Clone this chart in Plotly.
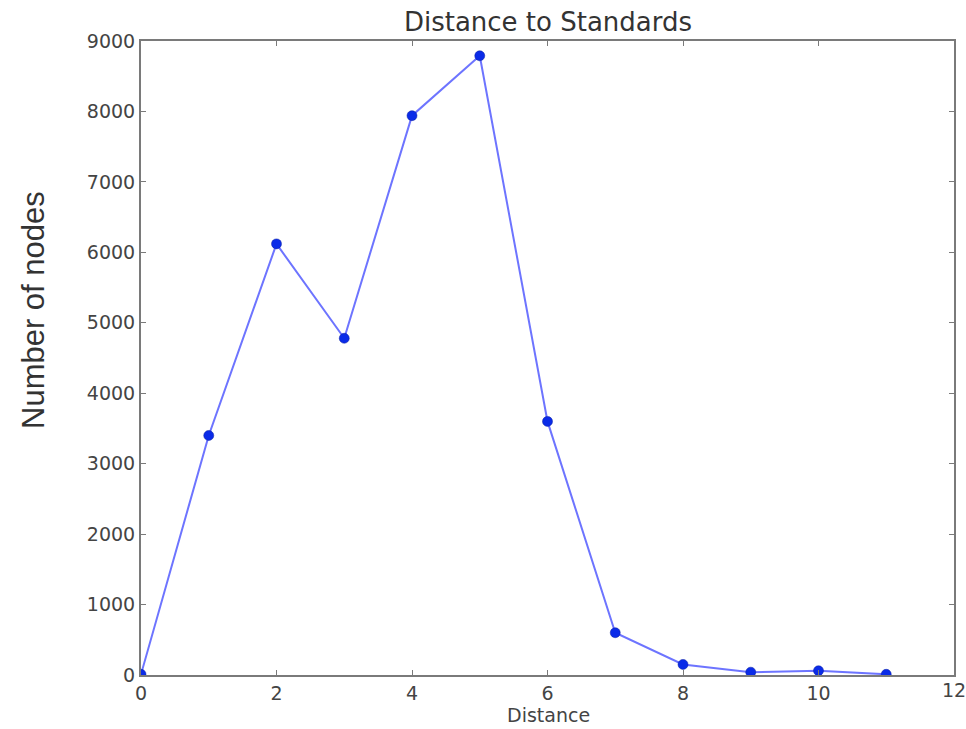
import plotly.graph_objects as go

distance = [0, 1, 2, 3, 4, 5, 6, 7, 8, 9, 10, 11]
nodes = [10, 3400, 6120, 4780, 7940, 8790, 3600, 600, 150, 40, 60, 10]
x_ticks = [0, 2, 4, 6, 8, 10, 12]
y_ticks = [0, 1000, 2000, 3000, 4000, 5000, 6000, 7000, 8000, 9000]

W, H = 966, 729
L, R, T, B = 141, 12, 41, 54
PH = H - T - B

fig = go.Figure()
fig.add_trace(go.Scatter(
    x=distance, y=nodes, mode="lines",
    line=dict(color="rgba(60,70,255,0.75)", width=2),
    hoverinfo="skip", showlegend=False))
fig.add_trace(go.Scatter(
    x=distance, y=nodes, mode="markers",
    marker=dict(color="#0a2be8", size=10, line=dict(color="#0a1fa0", width=0.5)),
    showlegend=False))

tick_font = dict(family="DejaVu Sans", size=19, color="#444444")
axis_common = dict(
    showgrid=False, zeroline=False, showline=True, linecolor="#7a7a7a", linewidth=2,
    mirror="allticks", ticks="inside", ticklen=5, tickcolor="#7a7a7a", tickwidth=1,
    tickfont=tick_font, automargin=False,
)

# last x tick label drawn as annotation so it shows at the page edge like the reference
last_x = x_ticks[-1]

fig.update_layout(
    width=W, height=H,
    margin=dict(l=L, r=R, t=T, b=B),
    paper_bgcolor="white", plot_bgcolor="white",
    title=dict(text="Distance to Standards", x=548 / W, xanchor="center",
               y=1 - 22 / H, yanchor="middle",
               font=dict(family="DejaVu Sans", size=26, color="#333333")),
    xaxis=dict(range=[0, 12], tickvals=x_ticks[:-1], **axis_common),
    yaxis=dict(range=[0, 9000], tickvals=y_ticks, **axis_common),
    annotations=[
        dict(text=str(last_x), xref="x", yref="paper", x=last_x, y=-(690 - (H - B)) / PH,
             showarrow=False, xanchor="center", yanchor="middle", font=tick_font),
        dict(text="Number of nodes", xref="paper", yref="paper",
             x=(33 - L) / (W - L - R), y=(H - B - 310) / PH,
             showarrow=False, textangle=-90, xanchor="center", yanchor="middle",
             font=dict(family="Liberation Sans", size=31, color="#333333")),
        dict(text="Distance", xref="paper", yref="paper",
             x=(548 - L) / (W - L - R), y=-(715 - (H - B)) / PH,
             showarrow=False, xanchor="center", yanchor="middle",
             font=dict(family="DejaVu Sans", size=19, color="#444444")),
    ],
)

fig.write_html("out.html")
